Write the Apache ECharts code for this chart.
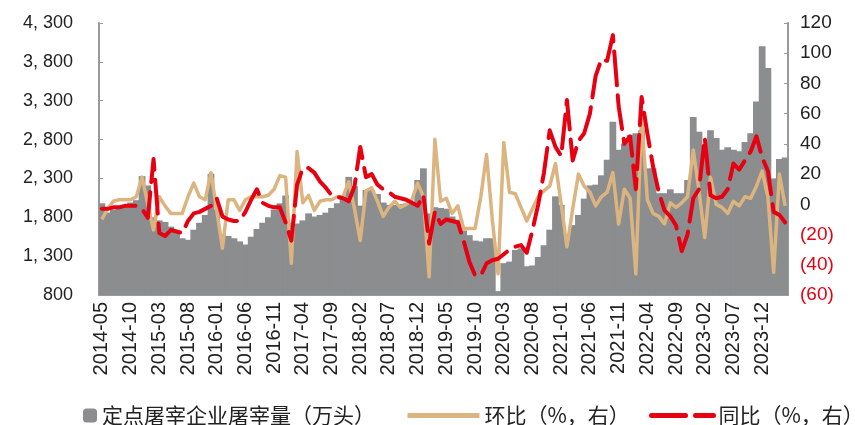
<!DOCTYPE html>
<html>
<head>
<meta charset="utf-8">
<script src="https://cdn.jsdelivr.net/npm/echarts@6/dist/echarts.min.js"></script>
<style>
  html, body { margin: 0; background: #fff; }
  #chart { width: 855px; height: 425px; }
</style>
</head>
<body>
<div id="chart"></div>
<script>
// months 2014-05 .. 2024-04
const months = [];
for (let y = 2014, m = 5; months.length < 120; m++) {
  if (m > 12) { m = 1; y++; }
  months.push(y + '-' + String(m).padStart(2, '0'));
}

// 定点屠宰企业屠宰量（万头）
const slaughter = [
  1980, 1860, 1900, 1920, 1950, 1990, 2020, 2330, 2210, 1800,
  1760, 1740, 1680, 1600, 1530, 1510, 1640, 1730, 1830, 2360,
  1900, 1580, 1560, 1530, 1490, 1450, 1550, 1650, 1730, 1800,
  1900, 1980, 2080, 1730, 1720, 1760, 1850, 1810, 1830, 1860,
  1920, 1980, 2060, 2320, 2200, 1950, 2150, 2150, 2100, 1990,
  1960, 1960, 1970, 1980, 2000, 2280, 2430, 1850, 1930, 1920,
  1910, 1810, 1770, 1630, 1570, 1500, 1490, 1530, 1530, 850,
  1210, 1230, 1380, 1400, 1170, 1180, 1290, 1440, 1640, 2070,
  1960, 1550, 1700, 1830, 2040, 2210, 2220, 2340, 2540, 3030,
  2670, 2750, 2860, 2880, 2920, 2430, 2430, 2110, 2110, 2160,
  2110, 2110, 2280, 3090, 2900, 2650, 2920, 2820, 2670, 2700,
  2670, 2650, 2770, 2880, 3290, 4000, 3720, 2300, 2550, 2570
];

// 环比（%）
const momPct = [
  -10, -3, 2, 3, 3, 3, 5, 18, 0, -17,
  5, -1, -6, -6, -6, 5, 14, 5, 3, 21,
  -4, -29, 3, 3, -4, 3, 5, 5, 5, 6,
  10, 19, 18, -39, 35, 1, 6, -4, 2, 3,
  3, 5, 5, 15, -3, -24, 9, 11, 2, -8,
  -2, 2, -2, 0, 3, 14, 5, -48, 43, 2,
  4, -6, -1, -16, -16, -16, 5, 33, -10, -46,
  41, 8, 7, -2, -11, -3, 5, 9, 12, 27,
  0, -28, -3, 20, 12, 8, -1, 5, 8, 21,
  -13, 10, 4, -46, 58, 3, -6, -8, -13, 1,
  -2, 1, 5, 36, 9, -22, 18, 0, -2, -6,
  2, -1, 5, 4, 12, 22, 5, -45, 20, -1
];

// 同比（%）
const yoyPct = [
  -3, -3, -2, -2, -1, -1, -1, -3, -9, 30,
  -19, -21, -17, -18, -19, -11, -6, -5, -3, -1,
  4, -8, -10, -11, -11, -5, 3, 10, 1, -1,
  -2, -2, -12, -24, 13, 24, 24, 21, 15, 11,
  6, 5, 4, 2, 12, 38, 18, 20, 13, 10,
  8, 5, 4, 3, 1, -1, 6, -26, -5, -13,
  -10, -11, -12, -24, -38, -47, -47, -39, -37, -36,
  -33, -30, -28, -27, -32, -17, 0, 21, 49, 38,
  32, 69, 29, 42, 47, 60, 85, 96, 95, 112,
  65, 40, 45, 10, 71, 47, 25, 8, -4, -8,
  -14, -31, -20, 4, 10, 44, 6, 4, 5, 10,
  27, 23, 29, 35, 45, 31, 22, -5, -7, -12
];

// left axis runs 800..4300 step 500; bars are measured from the 800 floor
const leftMin = 800, leftMax = 4300, leftStep = 500;
const rightMin = -60, rightMax = 120, rightStep = 20;

const names = ['定点屠宰企业屠宰量（万头）', '环比（%，右）', '同比（%，右）'];
const FONT = '"Liberation Sans", Arial, sans-serif';
const CJK = '"Noto Sans CJK SC", sans-serif';
const GRAY = '#8b8d8f', TAN = '#dcb47f', RED = '#e60012';

function fmtLeft(v) {
  const n = v + leftMin;
  if (n < 1000) return String(n);
  return Math.floor(n / 1000) + ', ' + String(n % 1000).padStart(3, '0');
}

const legendText = { fontSize: 21, color: '#222', fontFamily: CJK };

const option = {
  animation: false,
  backgroundColor: '#fff',
  grid: { left: 99, right: 67, top: 23, bottom: 130 },
  legend: [
    { data: [names[0]], left: 78, top: 400, itemWidth: 14, itemHeight: 14, itemGap: 0, textStyle: legendText },
    { data: [names[1]], left: 400, top: 400, itemWidth: 72, itemHeight: 14,
      itemStyle: { opacity: 0 }, lineStyle: { width: 5 }, textStyle: legendText },
    { data: [names[2]], left: 644, top: 400, itemWidth: 62, itemHeight: 14,
      itemStyle: { opacity: 0 }, lineStyle: { width: 5 }, textStyle: legendText }
  ],
  xAxis: {
    type: 'category',
    data: months,
    axisLine: { lineStyle: { color: '#9a9a9a', width: 2 } },
    axisTick: { inside: true, length: 4, interval: 4, lineStyle: { color: '#9a9a9a' } },
    axisLabel: {
      interval: 4, rotate: 90, margin: 7,
      fontSize: 20, color: '#222', fontFamily: FONT
    }
  },
  yAxis: [
    {
      type: 'value',
      min: 0, max: leftMax - leftMin, interval: leftStep,
      splitLine: { show: false },
      axisLine: { show: true, lineStyle: { color: '#9a9a9a', width: 2 } },
      axisTick: { show: true, inside: true, length: 4, lineStyle: { color: '#9a9a9a' } },
      axisLabel: { formatter: fmtLeft, fontSize: 18, color: '#222', fontFamily: FONT, margin: 26 }
    },
    {
      type: 'value',
      min: rightMin, max: rightMax, interval: rightStep,
      splitLine: { show: false },
      axisLine: { show: true, lineStyle: { color: '#9a9a9a', width: 2 } },
      axisTick: { show: true, inside: true, length: 4, lineStyle: { color: '#9a9a9a' } },
      axisLabel: {
        formatter: v => v < 0 ? '(' + (-v) + ')' : String(v),
        color: v => (v < 0 ? RED : '#222'),
        fontSize: 19, fontFamily: FONT, margin: 12
      }
    }
  ],
  series: [
    {
      name: names[0],
      type: 'bar',
      yAxisIndex: 0,
      barWidth: '118%',
      itemStyle: { color: GRAY },
      data: slaughter.map(v => v - leftMin),
      z: 1
    },
    {
      name: names[1],
      type: 'line',
      yAxisIndex: 1,
      symbol: 'none',
      lineStyle: { color: TAN, width: 3.5, join: 'round' },
      itemStyle: { color: TAN },
      data: momPct,
      z: 3
    },
    {
      name: names[2],
      type: 'line',
      yAxisIndex: 1,
      symbol: 'none',
      lineStyle: { color: RED, width: 4, type: [34, 10], cap: 'round', join: 'round' },
      itemStyle: { color: RED },
      data: yoyPct,
      z: 4
    }
  ]
};

const chart = echarts.init(document.getElementById('chart'), null, { renderer: 'canvas' });
chart.setOption(option);
</script>
</body>
</html>
